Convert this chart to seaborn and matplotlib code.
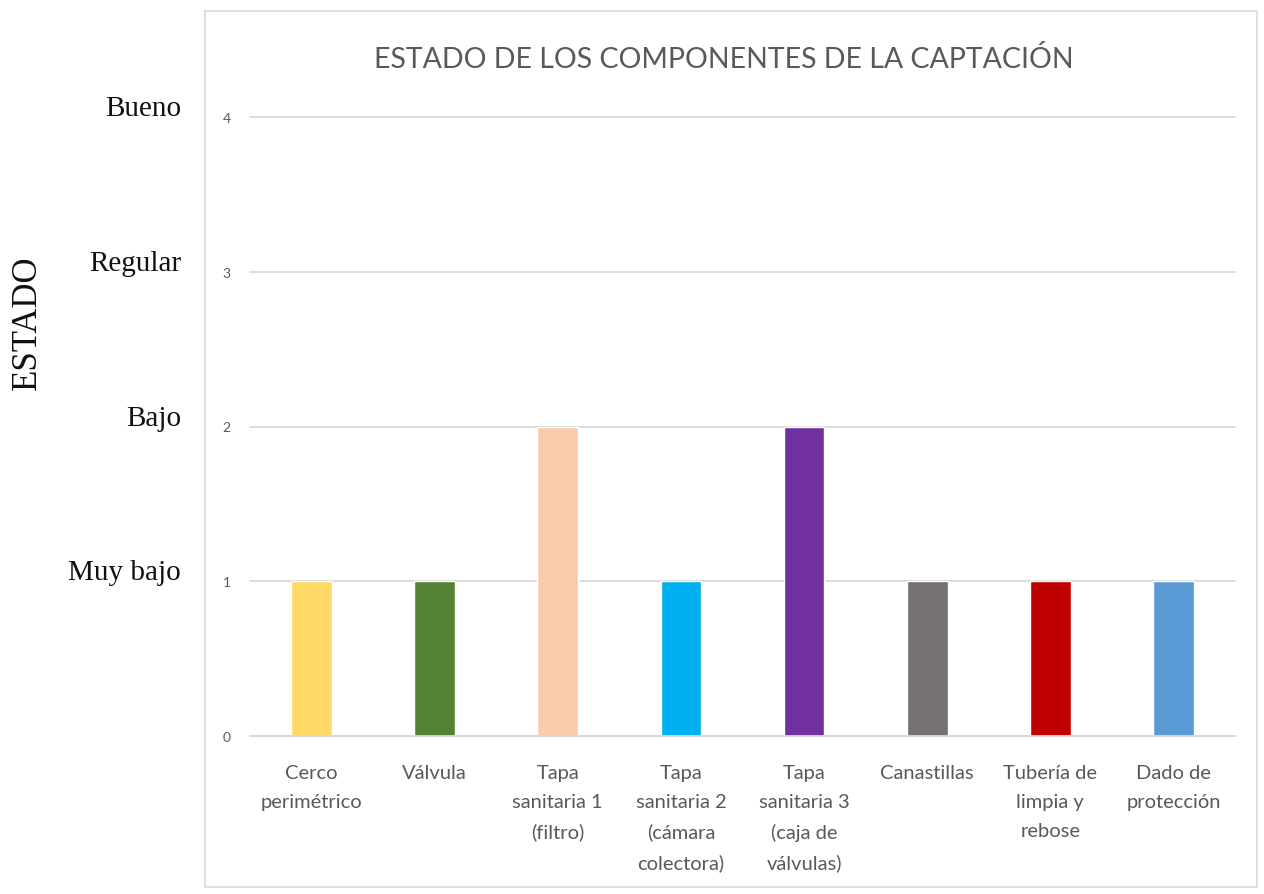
import matplotlib
matplotlib.use("Agg")
import matplotlib.pyplot as plt
import seaborn as sns
import pandas as pd
from matplotlib.patches import Rectangle

categories = ["Cerco\nperimétrico", "Válvula", "Tapa\nsanitaria 1\n(filtro)",
              "Tapa\nsanitaria 2\n(cámara\ncolectora)", "Tapa\nsanitaria 3\n(caja de\nválvulas)",
              "Canastillas", "Tubería de\nlimpia y\nrebose", "Dado de\nprotección"]
values = [1, 1, 2, 1, 2, 1, 1, 1]
colors = ["#FFD966", "#548235", "#F8CBAD", "#00B0F0", "#7030A0", "#767171", "#C00000", "#5B9BD5"]
state_labels = ["Muy bajo", "Bajo", "Regular", "Bueno"]
state_levels = [1, 2, 3, 4]
title = "ESTADO DE LOS COMPONENTES DE LA CAPTACIÓN"
ylabel = "ESTADO"

sns.set_theme(style="white")
plt.rcParams['font.family'] = ['Lato', 'DejaVu Sans']

df = pd.DataFrame({"cat": categories, "val": values})

fig = plt.figure(figsize=(12.64, 8.95), dpi=100)
ax = fig.add_axes([250/1264, 1-737/895, (1235-250)/1264, (737-118)/895])

sns.barplot(data=df, x="cat", y="val", hue="cat", palette=colors, legend=False,
            width=0.33, ax=ax, saturation=1)

ax.set_ylim(0, 4)
ax.set_yticks([0, 1, 2, 3, 4])
ax.set_yticklabels(["0", "1", "2", "3", "4"], color="#595959", fontsize=10)
ax.tick_params(axis="y", length=0, pad=14)
ax.tick_params(axis="x", length=0, pad=20)
for lbl in ax.get_xticklabels():
    lbl.set_color("#595959")
    lbl.set_fontsize(14.5)
    lbl.set_linespacing(1.86)
    lbl.set_va("top")
ax.set_xlabel("")
ax.set_ylabel("")
ax.yaxis.grid(True, color="#d9d9d9", linewidth=1.3)
ax.set_axisbelow(True)
for s in ["top", "right", "left"]:
    ax.spines[s].set_visible(False)
ax.spines["bottom"].set_color("#d9d9d9")
ax.spines["bottom"].set_linewidth(1.3)
for gl in ax.yaxis.get_gridlines():
    gl.set_clip_on(False)

# chart border box
fig.patches.append(Rectangle((205/1264, 1-888/895), (1257-205)/1264, (888-12)/895,
                             transform=fig.transFigure, fill=False,
                             edgecolor="#d9d9d9", linewidth=1.2))

fig.text(724/1264, 1-60/895, title, ha="center", va="center",
         fontsize=20.5, color="#595959")

# outer state labels (serif)
for lev, lab in zip(state_levels, state_labels):
    y_disp = ax.transData.transform((0, lev))[1]
    fig.text(181/1264, (y_disp + 9) / 895, lab, ha="right", va="center",
             fontsize=21, color="#111111", family="Liberation Serif")

fig.text(27/1264, 1-323/895, ylabel, ha="center", va="center", rotation=90,
         fontsize=25, color="#111111", family="Liberation Serif")

fig.savefig("out.png", dpi=100, facecolor="white")
